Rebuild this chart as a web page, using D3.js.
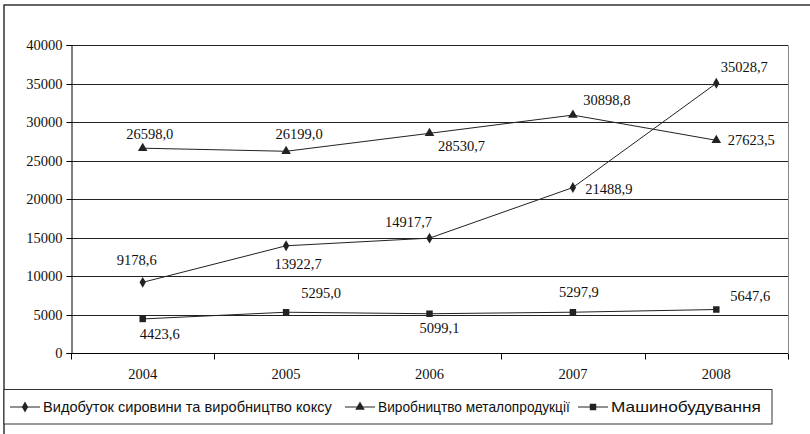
<!DOCTYPE html>
<html><head><meta charset="utf-8">
<script src="https://cdn.jsdelivr.net/npm/d3@7"></script>
<style>body{margin:0;background:#fff}svg{display:block}</style>
</head><body><svg id="c" width="810" height="434"></svg>
<script>
const years = ["2004","2005","2006","2007","2008"];
const seriesNames = ["Видобуток сировини та виробництво коксу","Виробництво металопродукції","Машинобудування"];
const coke = [9178.6, 13922.7, 14917.7, 21488.9, 35028.7];
const metal = [26598.0, 26199.0, 28530.7, 30898.8, 27623.5];
const machine = [4423.6, 5295.0, 5099.1, 5297.9, 5647.6];
const yTicks = [0,5000,10000,15000,20000,25000,30000,35000,40000];

// label offsets (style only)
const labelOffsets = [
  [[-6,-22],[12,18],[-21,-16],[36,1],[28,-16]],
  [[7,-14],[13,-17],[32,13],[34,-15],[35,0]],
  [[17,15],[35,-19],[10,14],[6,-20],[34,-14]]
];
const symbols = [d3.symbolDiamond, d3.symbolTriangle, d3.symbolSquare];
const symSizes = [34, 40, 42];
const data = [coke, metal, machine];
const SERIF = "font-family:'Liberation Serif';font-size:14.5px";
const SANS = "font-family:'Liberation Sans';font-size:14px";

const svg = d3.select("#c");
const L=71, R=788, T=45, B=353;
svg.append("rect").attr("x",4).attr("y",5).attr("width",830).attr("height",450)
  .attr("fill","none").attr("stroke","#333").attr("stroke-width",1.5);

const x = d3.scaleBand().domain(years).range([L,R]);
const y = d3.scaleLinear().domain([0,40000]).range([B,T]);

svg.append("path").attr("d",`M${L},${T+0.5}H${R+0.5}V${B}`).attr("fill","none").attr("stroke","#888").attr("stroke-width",1);
svg.append("g").selectAll("line").data(yTicks.filter(d=>d>0)).join("line")
  .attr("x1",L).attr("x2",R).attr("y1",d=>Math.round(y(d))+0.5).attr("y2",d=>Math.round(y(d))+0.5)
  .attr("stroke","#222").attr("stroke-width",1);

const ya = svg.append("g").attr("transform",`translate(${L+0.5},0)`)
  .call(d3.axisLeft(y).tickValues(yTicks).tickSize(5).tickPadding(4).tickFormat(d3.format("d")));
ya.attr("font-family",null).attr("font-size",null);
ya.select(".domain").attr("stroke","#000");
ya.selectAll(".tick line").attr("stroke","#000");
ya.selectAll("text").attr("style",SERIF).attr("fill","#111");
ya.selectAll(".tick").attr("transform",d=>`translate(0,${Math.round(y(d))+0.5})`);

const xa = svg.append("g").attr("transform",`translate(0,${B+0.5})`);
xa.append("line").attr("x1",L).attr("x2",R).attr("stroke","#000");
const bounds = years.map(d=>x(d)).concat([R]);
xa.selectAll("line.t").data(bounds).join("line").attr("class","t")
  .attr("x1",d=>Math.round(d)+0.5).attr("x2",d=>Math.round(d)+0.5).attr("y1",0).attr("y2",6).attr("stroke","#000");
xa.selectAll("text").data(years).join("text").attr("style",SERIF)
  .attr("x",d=>x(d)+x.bandwidth()/2).attr("y",25)
  .attr("text-anchor","middle").attr("fill","#111").text(d=>d);

const cx = d=>x(d)+x.bandwidth()/2;
const fmt = v=>v.toFixed(1).replace(".",",");
const line = d3.line().x((v,i)=>cx(years[i])).y(v=>y(v));

data.forEach((vals,s)=>{
  svg.append("path").datum(vals).attr("d",line).attr("fill","none").attr("stroke","#222").attr("stroke-width",1);
  svg.append("g").selectAll("path").data(vals).join("path")
    .attr("transform",(v,i)=>`translate(${cx(years[i])},${y(v)})`)
    .attr("d",d3.symbol().type(symbols[s]).size(symSizes[s])).attr("fill","#222");
  svg.append("g").selectAll("text").data(vals).join("text").attr("style",SERIF)
    .attr("x",(v,i)=>cx(years[i])+labelOffsets[s][i][0])
    .attr("y",(v,i)=>y(v)+labelOffsets[s][i][1])
    .attr("dy","0.35em").attr("text-anchor","middle")
    .attr("fill","#111").text(fmt);
});

svg.append("rect").attr("x",4).attr("y",389.5).attr("width",768).attr("height",34.5)
  .attr("fill","#fff").attr("stroke","#333").attr("stroke-width",1);
const legX = [10, 345, 578];
const legW = [289, 192, 150];
seriesNames.forEach((n,s)=>{
  const g = svg.append("g").attr("transform",`translate(${legX[s]},407)`);
  g.append("line").attr("x1",0).attr("x2",30).attr("stroke","#222");
  g.append("path").attr("transform","translate(15,0)").attr("d",d3.symbol().type(symbols[s]).size(symSizes[s])).attr("fill","#222");
  const t = g.append("text").attr("style",SANS).attr("dy","0.35em").attr("fill","#111").text(n);
  const w = t.node().getComputedTextLength();
  t.attr("transform",`translate(33,0) scale(${legW[s]/w},1)`);
});
</script></body></html>
